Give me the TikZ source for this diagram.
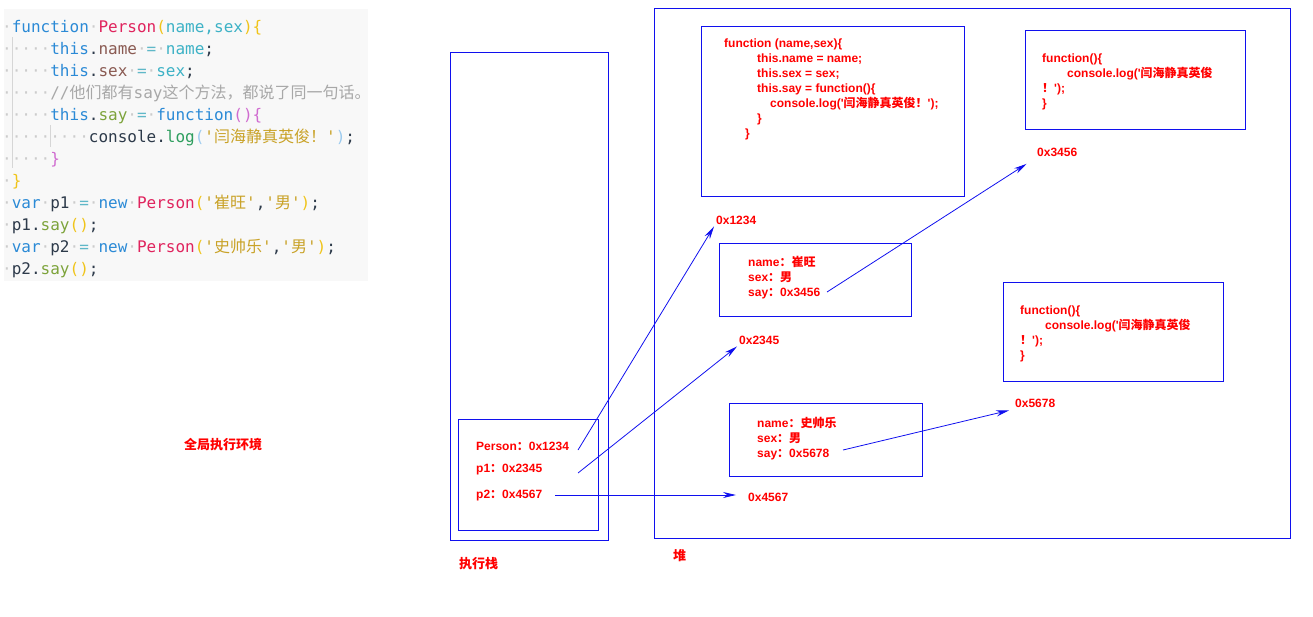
\documentclass[tikz,border=0pt]{standalone}
\usepackage{fontspec}
\setmainfont{Liberation Sans}
\setmonofont{DejaVu Sans Mono}
\newfontfamily\cjk{Noto Sans CJK SC}
\usepackage{xcolor}
\usetikzlibrary{arrows.meta}

\definecolor{codebg}{HTML}{F8F8F8}
\definecolor{jstxt}{HTML}{2D3A4A}
\definecolor{jskw}{HTML}{2B8AD6}
\definecolor{jsfn}{HTML}{E0245E}
\definecolor{jsbr}{HTML}{F0C419}
\definecolor{jsarg}{HTML}{3DB2C6}
\definecolor{jsprop}{HTML}{8A5A52}
\definecolor{jsmeth}{HTML}{7DA33B}
\definecolor{jspk}{HTML}{D06BD0}
\definecolor{jsstr}{HTML}{C9A227}
\definecolor{jsdot}{HTML}{CCCCCC}
\definecolor{jscom}{HTML}{A8A8A8}
\definecolor{jslog}{HTML}{2E9E5E}
\definecolor{jsparen}{HTML}{9CCBEF}
\definecolor{jsop}{HTML}{5FB8C8}
\definecolor{heapblue}{HTML}{1010EE}
\definecolor{labred}{HTML}{FF0000}
\newcommand{\dt}{\textcolor{jsdot}{·}}

\begin{document}
\begin{tikzpicture}[x=1pt,y=-1pt,
    box/.style={draw=heapblue,line width=1pt},
    lbl/.style={text=labred,font=\fontsize{12}{15}\selectfont\bfseries,inner sep=0pt,anchor=west,align=left},
    addr/.style={lbl,inner sep=2pt},
    fcode/.style={text=labred,font=\fontsize{12}{15}\selectfont\bfseries,inner sep=0pt,anchor=west,align=left},
    zhlbl/.style={text=labred,font=\cjk\fontsize{13}{15}\selectfont\bfseries,inner sep=0pt,anchor=west},
    ptr/.style={draw=heapblue,line width=0.8pt,-{Stealth[length=13pt,width=6pt]}}]
    \useasboundingbox (0,0) rectangle (1313,616);
    % Source code
    \fill[codebg] (4,9) rectangle (368,281);
    \draw[jsdot!80,line width=0.8pt] (12.7,37) -- (12.7,168);
    \draw[jsdot!80,line width=0.8pt] (50.7,125) -- (50.7,147);
    \node[anchor=north west,inner sep=0pt,align=left,text=jstxt,
          font=\ttfamily\fontsize{16}{22}\selectfont] (code) at (2,20) {%
        \dt\textcolor{jskw}{function}\dt\textcolor{jsfn}{Person}\textcolor{jsbr}{(}\textcolor{jsarg}{name,sex}\textcolor{jsbr}{)\{}\\
        \dt\dt\dt\dt\dt\textcolor{jskw}{this}.\textcolor{jsprop}{name}\dt\textcolor{jsop}{=}\dt\textcolor{jsarg}{name};\\
        \dt\dt\dt\dt\dt\textcolor{jskw}{this}.\textcolor{jsprop}{sex}\dt\textcolor{jsop}{=}\dt\textcolor{jsarg}{sex};\\
        \dt\dt\dt\dt\dt\textcolor{jscom}{//{\cjk 他们都有}say{\cjk 这个方法，都说了同一句话。}}\\
        \dt\dt\dt\dt\dt\textcolor{jskw}{this}.\textcolor{jsmeth}{say}\dt\textcolor{jsop}{=}\dt\textcolor{jskw}{function}\textcolor{jspk}{()\{}\\
        \dt\dt\dt\dt\dt\dt\dt\dt\dt console.\textcolor{jslog}{log}\textcolor{jsparen}{(}\textcolor{jsstr}{'{\cjk 闫海静真英俊！}'}\textcolor{jsparen}{)};\\
        \dt\dt\dt\dt\dt\textcolor{jspk}{\}}\\
        \dt\textcolor{jsbr}{\}}\\
        \dt\textcolor{jskw}{var}\dt p1\dt\textcolor{jsop}{=}\dt\textcolor{jskw}{new}\dt\textcolor{jsfn}{Person}\textcolor{jsbr}{(}\textcolor{jsstr}{'{\cjk 崔旺}'},\textcolor{jsstr}{'{\cjk 男}'}\textcolor{jsbr}{)};\\
        \dt p1.\textcolor{jsmeth}{say}\textcolor{jsbr}{()};\\
        \dt\textcolor{jskw}{var}\dt p2\dt\textcolor{jsop}{=}\dt\textcolor{jskw}{new}\dt\textcolor{jsfn}{Person}\textcolor{jsbr}{(}\textcolor{jsstr}{'{\cjk 史帅乐}'},\textcolor{jsstr}{'{\cjk 男}'}\textcolor{jsbr}{)};\\
        \dt p2.\textcolor{jsmeth}{say}\textcolor{jsbr}{()};};
    \node[zhlbl] (env) at (184,445) {全局执行环境};
    % Execution stack
    \draw[box] (450,52) rectangle (608,540);
    \draw[box] (458,419) rectangle (598,530);
    \node[lbl] (pers) at (476,446) {Person{\cjk ：}0x1234};
    \node[lbl] (vp1) at (476,470) {p1{\cjk ：}0x2345};
    \node[lbl] (vp2) at (476,496) {p2{\cjk ：}0x4567};
    \node[zhlbl] (stack) at (459,564) {执行栈};
    % Heap
    \draw[box] (654,8) rectangle (1290,538);
    \node[zhlbl] (heap) at (673,556) {堆};
    \draw[box] (701,26) rectangle (964,196);
    \node[fcode] (fperson) at (724,89) {function (name,sex)\{\\
        \hspace*{33pt}this.name = name;\\
        \hspace*{33pt}this.sex = sex;\\
        \hspace*{33pt}this.say = function()\{\\
        \hspace*{46pt}console.log(\textquotesingle{\cjk 闫海静真英俊！}\textquotesingle);\\
        \hspace*{33pt}\}\\
        \hspace*{21pt}\}};
    \draw[box] (1025,30) rectangle (1245,129);
    \node[fcode] (fsay1) at (1042,82) {function()\{\\
        \hspace*{25pt}console.log(\textquotesingle{\cjk 闫海静真英俊}\\
        {\cjk ！}\textquotesingle);\\
        \}};
    \draw[box] (1003,282) rectangle (1223,381);
    \node[fcode] (fsay2) at (1020,334) {function()\{\\
        \hspace*{25pt}console.log(\textquotesingle{\cjk 闫海静真英俊}\\
        {\cjk ！}\textquotesingle);\\
        \}};
    \draw[box] (719,243) rectangle (911,316);
    \node[lbl] (obj1) at (748,278) {name{\cjk ：崔旺}\\sex{\cjk ：男}\\say{\cjk ：}0x3456};
    \draw[box] (729,403) rectangle (922,476);
    \node[lbl] (obj2) at (757,439) {name{\cjk ：史帅乐}\\sex{\cjk ：男}\\say{\cjk ：}0x5678};
    % Addresses
    \node[addr] (a1234) at (714,220) {0x1234};
    \node[addr] (a2345) at (737,340) {0x2345};
    \node[addr] (a3456) at (1035,152) {0x3456};
    \node[addr] (a5678) at (1013,403) {0x5678};
    \node[addr] (a4567) at (746,497) {0x4567};
    % Pointers
    \coordinate (t1) at (578,450);
    \coordinate (t2) at (578,473);
    \coordinate (t3) at (555,495);
    \coordinate (t4) at (827,292);
    \coordinate (t5) at (843,450);
    \draw[ptr] (t1) -- (a1234.south west);
    \draw[ptr] (t2) -- (a2345.south west);
    \draw[ptr,shorten >=10pt] (t3) -- (t3 -| a4567.west);
    \draw[ptr,shorten >=10pt] (t4) -- (a3456.south west);
    \draw[ptr,shorten >=4pt] (t5) -- (a5678.south west);
\end{tikzpicture}
\end{document}
